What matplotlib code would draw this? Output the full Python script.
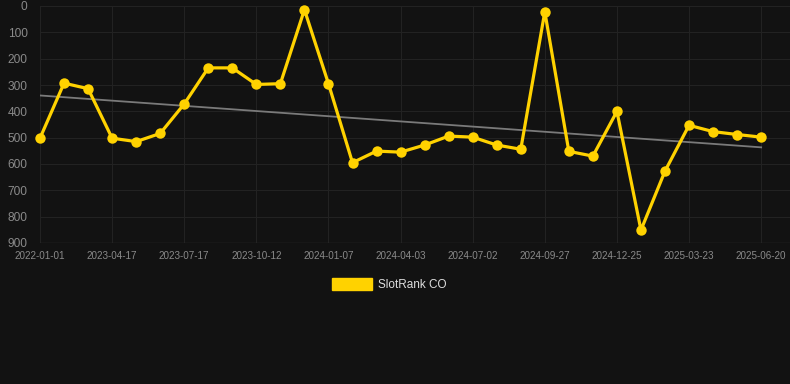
import numpy as np
import matplotlib
matplotlib.use("Agg")
import matplotlib.pyplot as plt
import matplotlib.patches as mpatches

plt.rcParams['font.family'] = ['Liberation Sans', 'DejaVu Sans']

# rank per snapshot (lower is better, axis inverted)
ranks = [502, 293, 314, 502, 515, 484, 372, 235, 235, 298,
         295, 14, 295, 595, 551, 555, 528, 494, 498, 528,
         544, 22, 552, 570, 400, 851, 627, 453, 477, 488, 498]
tickLabels = ["2022-01-01", "2023-04-17", "2023-07-17", "2023-10-12",
              "2024-01-07", "2024-04-03", "2024-07-02", "2024-09-27",
              "2024-12-25", "2025-03-23", "2025-06-20"]
seriesName = "SlotRank CO"

bg = "#121212"
yellow = "#FFD200"

x = np.arange(len(ranks))
slope, icept = np.polyfit(x, ranks, 1)
trend = slope * x + icept

fig = plt.figure(figsize=(7.9, 3.84), dpi=100, facecolor=bg)
ax = fig.add_axes([40 / 790, 1 - 243 / 384, 1 - 40 / 790, 237 / 384])
ax.set_facecolor(bg)

ax.plot(x, trend, color="#7a7a7a", lw=1.3, zorder=2)
ax.plot(x, ranks, color=yellow, lw=2.3, marker="o", markersize=7.5,
        markeredgewidth=0, zorder=3, clip_on=False)

ax.set_ylim(900, 0)
ax.set_xlim(0, 31.2)
ax.set_yticks(np.arange(0, 901, 100))
ax.set_xticks(x[::3])
ax.set_xticklabels(tickLabels)
ax.grid(True, color="#222222", lw=0.8)
ax.set_axisbelow(True)
ax.axhline(900, color="#2e2e2e", lw=1.0, zorder=1)

for s in ax.spines.values():
    s.set_visible(False)
ax.tick_params(axis="y", length=0, pad=9, labelsize=8.6, labelcolor="#8a8a8a")
ax.tick_params(axis="x", length=0, pad=6, labelsize=7.1, labelcolor="#8a8a8a")

# legend drawn by hand, centred under the plot
fig.patches.append(mpatches.Rectangle((332 / 790, 1 - 290 / 384), 40 / 790, 12 / 384,
                                      transform=fig.transFigure, color=yellow))
fig.text(378 / 790, 1 - 284.5 / 384, seriesName, color="#dddddd", fontsize=8.5, va="center")

fig.savefig("out.png", dpi=100, facecolor=bg)
